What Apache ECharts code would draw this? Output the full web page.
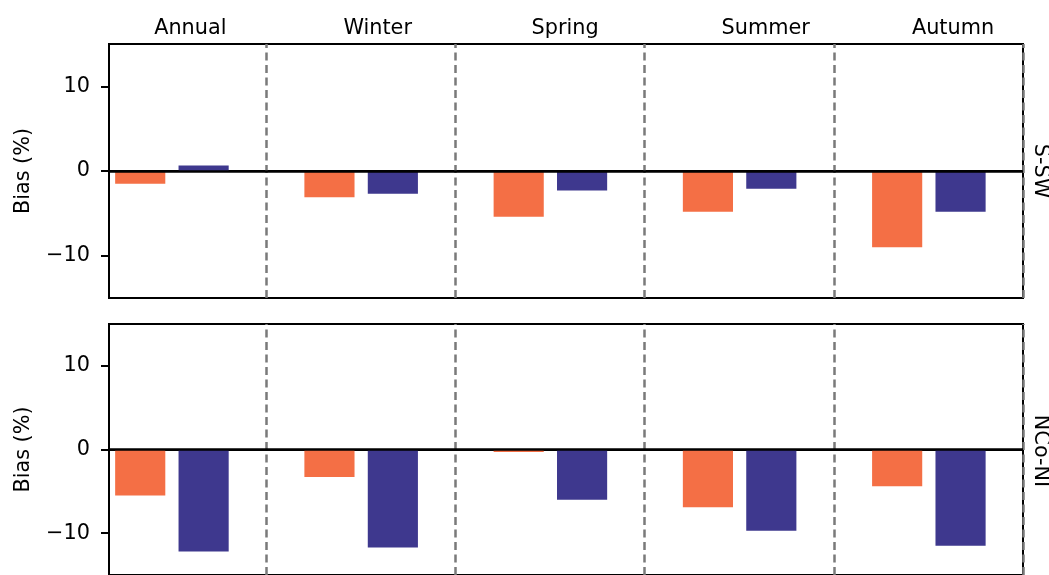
<!DOCTYPE html>
<html>
<head>
<meta charset="utf-8">
<script src="https://cdn.jsdelivr.net/npm/echarts@6/dist/echarts.min.js"></script>
<style>
html,body{margin:0;padding:0;background:#fff;}
#chart{width:1049px;height:575px;}
</style>
</head>
<body>
<div id="chart"></div>
<script>
// ---- data ----
const categories = ['Annual', 'Winter', 'Spring', 'Summer', 'Autumn'];
const regions = ['S-SW', 'NCo-NI'];
const sswOrange = [-1.5, -3.1, -5.4, -4.8, -9.0];
const sswBlue = [0.65, -2.7, -2.3, -2.1, -4.8];
const ncoOrange = [-5.5, -3.3, -0.3, -6.9, -4.4];
const ncoBlue = [-12.2, -11.7, -6.0, -9.7, -11.5];
const yTicks = [-10, 0, 10];
const separators = [0.5, 1.5, 2.5, 3.5, 4.5];
const titleOffsets = [0.1, 1.09, 2.08, 3.14, 4.13];

const ORANGE = '#f46f45';
const BLUE = '#3e388e';
const FONT = 'DejaVu Sans';
const FS = 20.8;
const BAR_W = 0.265;
const X_MIN = -0.33, X_MAX = 4.5;
const LW = 2;

const chart = echarts.init(document.getElementById('chart'), null, {renderer: 'canvas'});

function barRenderer(offset, color) {
  return function (params, api) {
    const x = api.value(0), v = api.value(1);
    const p1 = api.coord([x + offset - BAR_W / 2, v]);
    const p2 = api.coord([x + offset + BAR_W / 2, 0]);
    return {
      type: 'rect',
      shape: {
        x: p1[0],
        y: Math.min(p1[1], p2[1]),
        width: p2[0] - p1[0],
        height: Math.abs(p2[1] - p1[1])
      },
      style: {fill: color}
    };
  };
}

const grids = [
  {left: 109, right: 26, top: 44, height: 254},
  {left: 109, right: 26, top: 324, height: 254}
];

const xAxes = [], yAxes = [], series = [];
const panelData = [[sswOrange, sswBlue], [ncoOrange, ncoBlue]];

grids.forEach(function (g, i) {
  g.show = true;
  g.borderColor = '#000';
  g.borderWidth = LW;
  g.backgroundColor = 'transparent';
  xAxes.push({
    type: 'value', gridIndex: i, min: X_MIN, max: X_MAX,
    axisLine: {show: true, lineStyle: {color: '#000', width: LW}},
    axisTick: {show: false}, axisLabel: {show: false}, splitLine: {show: false}
  });
  yAxes.push({
    type: 'value', gridIndex: i, min: -15, max: 15,
    name: 'Bias (%)', nameLocation: 'middle', nameGap: 75,
    nameTextStyle: {fontFamily: FONT, fontSize: FS, color: '#000'},
    axisLine: {show: true, onZero: false, lineStyle: {color: '#000', width: LW}},
    axisTick: {show: true, length: 8, customValues: yTicks, lineStyle: {color: '#000', width: LW}},
    axisLabel: {
      show: true, margin: 19, customValues: yTicks,
      fontFamily: FONT, fontSize: FS, color: '#000',
      formatter: function (v) { return v < 0 ? '\u2212' + Math.abs(v) : String(v); }
    },
    splitLine: {show: false}
  });
  const pair = panelData[i];
  series.push({
    type: 'custom', xAxisIndex: i, yAxisIndex: i,
    renderItem: barRenderer(-0.165, ORANGE),
    encode: {x: 0, y: 1},
    data: pair[0].map(function (v, k) { return [k, v]; }),
    z: 2
  });
  series.push({
    type: 'custom', xAxisIndex: i, yAxisIndex: i,
    renderItem: barRenderer(0.17, BLUE),
    encode: {x: 0, y: 1},
    data: pair[1].map(function (v, k) { return [k, v]; }),
    z: 2
  });
  series.push({
    type: 'line', xAxisIndex: i, yAxisIndex: i, data: [], silent: true, z: 3,
    markLine: {
      silent: true, symbol: 'none', label: {show: false}, animation: false,
      data: separators.map(function (s) {
        return {xAxis: s, lineStyle: {color: '#7a7a7a', width: 2.5, type: [8, 4.5]}};
      }).concat([{yAxis: 0, lineStyle: {color: '#000', width: 2.5, type: 'solid'}}])
    }
  });
});

const graphics = [];
categories.forEach(function (c, k) {
  graphics.push({
    type: 'text', z: 10,
    x: 171.4 + titleOffsets[k] * 189.25, y: 28.5,
    style: {text: c, fontFamily: FONT, fontSize: FS, fill: '#000', align: 'center', verticalAlign: 'middle'}
  });
});
regions.forEach(function (r, i) {
  graphics.push({
    type: 'text', z: 10,
    x: 1040, y: grids[i].top + 127,
    rotation: -Math.PI / 2,
    style: {text: r, fontFamily: FONT, fontSize: FS, fill: '#000', align: 'center', verticalAlign: 'middle'}
  });
});

chart.setOption({
  animation: false,
  backgroundColor: '#fff',
  grid: grids,
  xAxis: xAxes,
  yAxis: yAxes,
  series: series,
  graphic: graphics
});
</script>
</body>
</html>
